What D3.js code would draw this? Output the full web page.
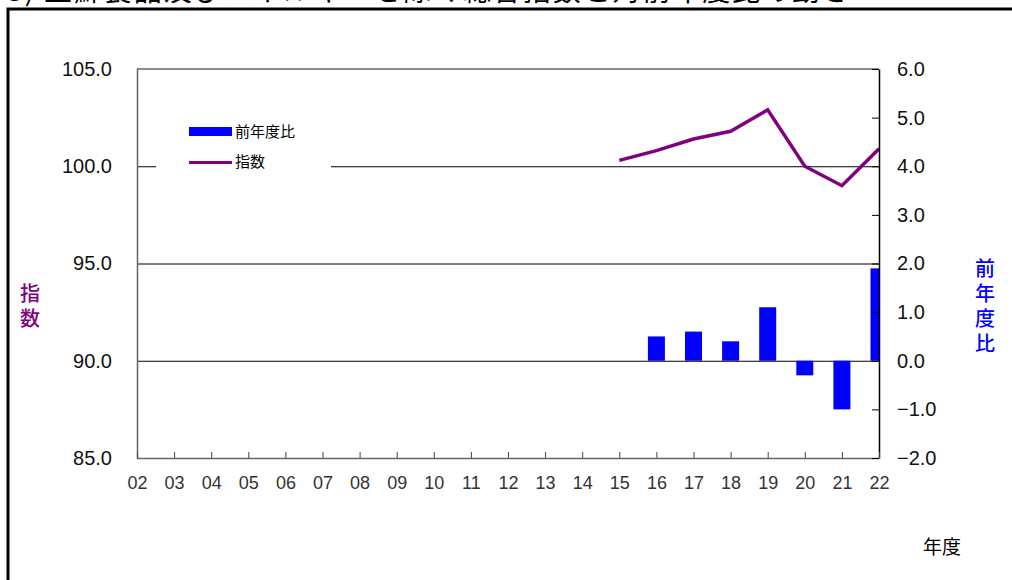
<!DOCTYPE html>
<html>
<head>
<meta charset="utf-8">
<script src="https://cdn.jsdelivr.net/npm/d3@7"></script>
<style>
  body { margin: 0; background: #fff; }
  svg { display: block; }
</style>
</head>
<body>
<div id="chart"></div>
<script>
var svgWidth = 1012, svgHeight = 580;

// fiscal years (x axis)
var years = ["02","03","04","05","06","07","08","09","10","11","12","13","14","15","16","17","18","19","20","21","22"];
// index line, only 15..22 plotted
var indexYears = ["15","16","17","18","19","20","21","22"];
var indexValues = [100.3, 100.8, 101.4, 101.8, 102.9, 100.0, 99.0, 100.9];
// year on year change, bars
var yoyYears = ["16","17","18","19","20","21","22"];
var yoyValues = [0.5, 0.6, 0.4, 1.1, -0.3, -1.0, 1.9];

var leftTicks = [85, 90, 95, 100, 105];
var rightTicks = [-2, -1, 0, 1, 2, 3, 4, 5, 6];
var gridTicks = [90, 95, 100];

var title = "3) 生鮮食品及びエネルギーを除く総合指数と対前年度比の動き";
var leftTitle = ["指", "数"];
var rightTitle = ["前", "年", "度", "比"];
var legendLabels = ["前年度比", "指数"];

var numFont = "'Liberation Sans', Arial, sans-serif";
var jpFont = "'Noto Sans CJK JP', sans-serif";

var plot = {left: 137, right: 879, top: 69, bottom: 458};

var svg = d3.select("#chart")
  .append("svg")
  .attr("width", svgWidth)
  .attr("height", svgHeight);

// title (cut off at the top, like the source image)
svg.append("text")
  .attr("x", 7)
  .attr("y", 1)
  .attr("font-family", jpFont)
  .attr("font-size", 28)
  .attr("fill", "#000")
  .attr("textLength", 843)
  .attr("lengthAdjust", "spacing")
  .text(title);

// outer frame
svg.append("path")
  .attr("d", "M8,580 V9 H1012")
  .attr("fill", "none")
  .attr("stroke", "#000")
  .attr("stroke-width", 3);

var x = d3.scalePoint().domain(years).range([plot.left, plot.right]);
var yL = d3.scaleLinear().domain([85, 105]).range([plot.bottom, plot.top]);
var yR = d3.scaleLinear().domain([-2, 6]).range([plot.bottom, plot.top]);

svg.append("clipPath").attr("id", "plotclip")
  .append("rect")
  .attr("x", plot.left).attr("y", plot.top)
  .attr("width", plot.right - plot.left)
  .attr("height", plot.bottom - plot.top);

// gridlines
svg.append("g").selectAll("line")
  .data(gridTicks)
  .enter()
  .append("line")
  .attr("x1", plot.left).attr("x2", plot.right)
  .attr("y1", d => yL(d) + 0.5).attr("y2", d => yL(d) + 0.5)
  .attr("stroke", "#000")
  .attr("stroke-width", 1);

// bars
var barW = 17;
svg.append("g")
  .attr("clip-path", "url(#plotclip)")
  .selectAll("rect")
  .data(yoyValues)
  .enter()
  .append("rect")
  .attr("x", (d, i) => x(yoyYears[i]) - barW / 2)
  .attr("y", d => d >= 0 ? yR(d) : yR(0))
  .attr("width", barW)
  .attr("height", d => Math.abs(yR(d) - yR(0)))
  .attr("fill", "#0000ff");

// index line
var line = d3.line()
  .x((d, i) => x(indexYears[i]))
  .y(d => yL(d));

svg.append("path")
  .attr("clip-path", "url(#plotclip)")
  .datum(indexValues)
  .attr("d", line)
  .attr("fill", "none")
  .attr("stroke", "#800080")
  .attr("stroke-width", 3.5)
  .attr("stroke-linejoin", "miter");

// plot frame
svg.append("path")
  .attr("d", "M" + plot.right + "," + plot.top + " H" + (plot.left + 0.5) + " V" + (plot.bottom + 0.5) + " H" + plot.right)
  .attr("fill", "none")
  .attr("stroke", "#666")
  .attr("stroke-width", 1.5);

// left axis
var leftAxis = svg.append("g")
  .attr("transform", "translate(" + plot.left + ",0)")
  .call(d3.axisLeft(yL).tickValues(leftTicks).tickFormat(d3.format(".1f")).tickSize(0).tickPadding(25));
leftAxis.select(".domain").remove();
leftAxis.selectAll("text")
  .attr("font-family", numFont)
  .attr("font-size", 20)
  .attr("fill", "#111");

// right axis
var rightAxis = svg.append("g")
  .attr("transform", "translate(" + plot.right + ",0)")
  .call(d3.axisRight(yR).tickValues(rightTicks).tickFormat(d3.format(".1f")).tickSizeInner(-7).tickSizeOuter(0).tickPadding(18));
rightAxis.select(".domain").attr("stroke", "#000").attr("stroke-width", 1.5);
rightAxis.selectAll("line").attr("stroke", "#000");
rightAxis.selectAll("text")
  .attr("font-family", numFont)
  .attr("font-size", 20)
  .attr("fill", "#111");

// bottom axis
var bottomAxis = svg.append("g")
  .attr("transform", "translate(0," + plot.bottom + ")")
  .call(d3.axisBottom(x).tickSizeInner(-6).tickSizeOuter(0).tickPadding(18));
bottomAxis.select(".domain").remove();
bottomAxis.selectAll("line").attr("stroke", "#444");
bottomAxis.selectAll("text")
  .attr("font-family", numFont)
  .attr("font-size", 18)
  .attr("fill", "#333");

// legend box (white, covers the 100 gridline)
var legend = svg.append("g");
legend.append("rect")
  .attr("x", 156).attr("y", 112)
  .attr("width", 175).attr("height", 68)
  .attr("fill", "#fff");
legend.append("rect")
  .attr("x", 189).attr("y", 127)
  .attr("width", 43).attr("height", 9)
  .attr("fill", "#0000ff");
legend.append("line")
  .attr("x1", 189).attr("x2", 232)
  .attr("y1", 162.5).attr("y2", 162.5)
  .attr("stroke", "#800080")
  .attr("stroke-width", 3);
legend.selectAll("text")
  .data(legendLabels)
  .enter()
  .append("text")
  .attr("x", 235)
  .attr("y", (d, i) => i === 0 ? 132 : 162)
  .attr("dy", "0.35em")
  .attr("font-family", jpFont)
  .attr("font-size", 15)
  .attr("fill", "#000")
  .text(d => d);

// vertical axis titles
svg.append("g").selectAll("text")
  .data(leftTitle)
  .enter()
  .append("text")
  .attr("x", 30)
  .attr("y", (d, i) => 294 + i * 25)
  .attr("dy", "0.35em")
  .attr("text-anchor", "middle")
  .attr("font-family", jpFont)
  .attr("font-size", 20)
  .attr("font-weight", 500)
  .attr("fill", "#800080")
  .text(d => d);

svg.append("g").selectAll("text")
  .data(rightTitle)
  .enter()
  .append("text")
  .attr("x", 985)
  .attr("y", (d, i) => 269 + i * 25)
  .attr("dy", "0.35em")
  .attr("text-anchor", "middle")
  .attr("font-family", jpFont)
  .attr("font-size", 20)
  .attr("font-weight", 500)
  .attr("fill", "#0000ff")
  .text(d => d);

svg.append("text")
  .attr("x", 942)
  .attr("y", 547)
  .attr("dy", "0.35em")
  .attr("text-anchor", "middle")
  .attr("font-family", jpFont)
  .attr("font-size", 19)
  .attr("fill", "#000")
  .text("年度");
</script>
</body>
</html>
